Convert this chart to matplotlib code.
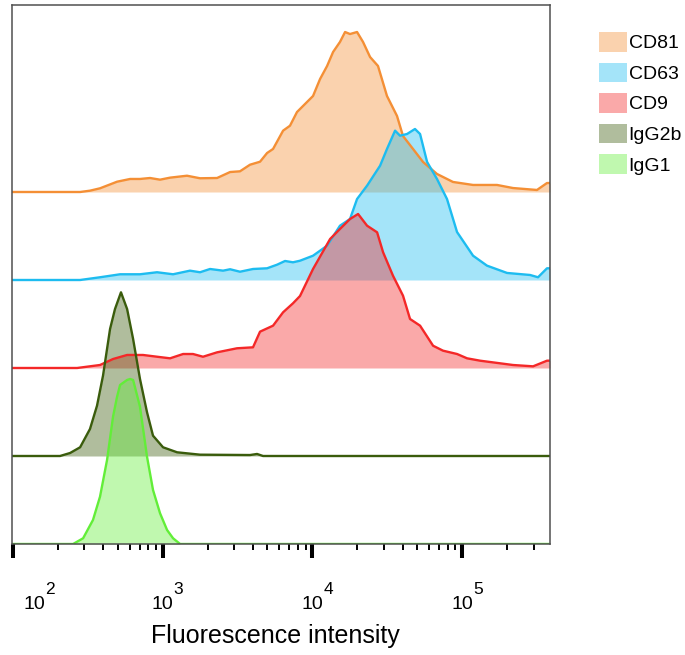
#!/usr/bin/env python3
# Histogramas apilados de intensidad de fluorescencia (CD81, CD63, CD9 e isotipos).
# Genera out.png.

import numpy as np
import matplotlib
matplotlib.use("Agg")
import matplotlib.pyplot as plt
from matplotlib import ticker
from matplotlib.patches import Patch

plt.rcParams.update({
    "font.family": ["Liberation Sans", "DejaVu Sans"],
})

# Datos: log10(intensidad) y cuenta normalizada
# (1.0 = separacion entre lineas base).
labels = ["CD81", "CD63", "CD9", "IgG2b", "IgG1"]
line_colors = ["#F48F35", "#1DBCF0", "#F42828", "#3A5C0C", "#62EE38"]
baselines = [4, 3, 2, 1, 0]

cd81_log = [1.993, 2.448, 2.514, 2.581, 2.695, 2.782, 2.848, 2.915, 2.982, 3.049,
            3.162, 3.249, 3.363, 3.450, 3.516, 3.583, 3.650, 3.697, 3.737, 3.804,
            3.850, 3.897, 3.937, 4.004, 4.051, 4.098, 4.138, 4.184, 4.218, 4.251,
            4.298, 4.338, 4.385, 4.438, 4.498, 4.565, 4.605, 4.672, 4.739, 4.832,
            4.939, 5.073, 5.233, 5.340, 5.500, 5.567, 5.587]
cd81_cnt = [0, 0, 0.015, 0.042, 0.117, 0.148, 0.148, 0.159, 0.140, 0.163,
            0.185, 0.156, 0.159, 0.227, 0.235, 0.310, 0.344, 0.443, 0.489, 0.697,
            0.753, 0.909, 0.977, 1.091, 1.284, 1.432, 1.591, 1.705, 1.818, 1.795,
            1.818, 1.705, 1.534, 1.432, 1.091, 0.864, 0.636, 0.489, 0.341, 0.205,
            0.114, 0.080, 0.080, 0.045, 0.023, 0.102, 0.102]

cd63_log = [1.993, 2.448, 2.581, 2.715, 2.848, 2.962, 3.069, 3.182, 3.249, 3.316,
            3.403, 3.450, 3.516, 3.603, 3.697, 3.764, 3.817, 3.870, 3.917, 4.004,
            4.098, 4.184, 4.251, 4.298, 4.365, 4.452, 4.498, 4.552, 4.585, 4.632,
            4.685, 4.719, 4.766, 4.832, 4.899, 4.966, 5.073, 5.166, 5.300, 5.454,
            5.507, 5.567, 5.587]
cd63_cnt = [0, 0, 0.031, 0.065, 0.065, 0.088, 0.065, 0.106, 0.088, 0.125,
            0.106, 0.122, 0.094, 0.125, 0.133, 0.174, 0.216, 0.201, 0.219, 0.276,
            0.390, 0.617, 0.693, 0.920, 1.072, 1.299, 1.489, 1.697, 1.640, 1.659,
            1.716, 1.659, 1.341, 1.148, 0.920, 0.545, 0.276, 0.163, 0.080, 0.057,
            0.031, 0.133, 0.133]

cd9_log = [1.993, 2.428, 2.581, 2.668, 2.762, 2.868, 2.962, 3.049, 3.136, 3.202,
           3.269, 3.363, 3.496, 3.603, 3.650, 3.737, 3.804, 3.870, 3.917, 4.004,
           4.118, 4.184, 4.251, 4.305, 4.365, 4.432, 4.472, 4.538, 4.605, 4.652,
           4.719, 4.806, 4.872, 4.966, 5.033, 5.120, 5.340, 5.474, 5.567, 5.587]
cd9_cnt = [0, 0, 0.034, 0.102, 0.148, 0.148, 0.128, 0.110, 0.159, 0.159,
           0.128, 0.178, 0.224, 0.235, 0.413, 0.481, 0.633, 0.735, 0.818, 1.125,
           1.466, 1.580, 1.693, 1.750, 1.617, 1.542, 1.315, 1.049, 0.822, 0.557,
           0.481, 0.253, 0.197, 0.159, 0.110, 0.083, 0.034, 0.019, 0.083, 0.083]

igg2b_log = [1.993, 2.314, 2.381, 2.448, 2.514, 2.561, 2.601, 2.648, 2.681, 2.721,
             2.762, 2.802, 2.848, 2.895, 2.935, 3.002, 3.096, 3.249, 3.583, 3.630,
             3.670, 5.587]
igg2b_cnt = [0, 0, 0.034, 0.099, 0.307, 0.572, 0.913, 1.443, 1.670, 1.860,
             1.670, 1.330, 0.875, 0.497, 0.231, 0.099, 0.042, 0.015, 0.011, 0.023,
             0, 0]

igg1_log = [1.993, 2.401, 2.468, 2.534, 2.581, 2.628, 2.668, 2.695, 2.715, 2.762,
            2.782, 2.802, 2.848, 2.895, 2.935, 2.982, 3.029, 3.069, 3.116, 5.587]
igg1_cnt = [0, 0, 0.065, 0.273, 0.538, 0.955, 1.447, 1.674, 1.807, 1.864,
            1.875, 1.864, 1.560, 0.992, 0.614, 0.349, 0.159, 0.065, 0, 0]

series = [(cd81_log, cd81_cnt), (cd63_log, cd63_cnt), (cd9_log, cd9_cnt),
          (igg2b_log, igg2b_cnt), (igg1_log, igg1_cnt)]
major_ticks = [1e2, 1e3, 1e4, 1e5]
tick_exponents = ["2", "3", "4", "5"]

fig = plt.figure(figsize=(6.85, 6.55), dpi=100)
ax = fig.add_axes([12/685, 1 - 544/655, (550 - 12)/685, (544 - 5)/655])

# Del fondo (arriba) hacia el frente (abajo): cada relleno tapa al anterior.
for (lx, cnt), base, col in zip(series, baselines, line_colors):
    xv = 10**np.asarray(lx)
    yv = base + np.asarray(cnt)
    ax.fill_between(xv, base, yv, color=col, alpha=0.4, lw=0)
    ax.plot(xv, yv, color=col, lw=1.7, solid_joinstyle="round")

ax.set_xscale("log")
ax.set_xlim(10**1.993, 10**5.587)
ax.set_ylim(0, 6.125)
ax.set_yticks([])

ax.xaxis.set_major_locator(ticker.FixedLocator(major_ticks))
ax.xaxis.set_major_formatter(ticker.NullFormatter())
ax.xaxis.set_minor_locator(ticker.LogLocator(base=10, subs=np.arange(2, 10), numticks=50))
ax.xaxis.set_minor_formatter(ticker.NullFormatter())
ax.tick_params(axis="x", which="major", length=10, width=2.9, color="black")
ax.tick_params(axis="x", which="minor", length=4.5, width=1.4, color="black")

for sp in ax.spines.values():
    sp.set_color("#505050")
    sp.set_linewidth(1.1)

# Etiquetas "10" con exponente grande, como en el original; la primera va
# corrida a la derecha porque cae sobre el borde izquierdo.
xtrans = ax.get_xaxis_transform()
for i, (v, e) in enumerate(zip(major_ticks, tick_exponents)):
    dx = 21 if i == 0 else 0
    ax.annotate("10", xy=(v, 0), xycoords=xtrans, xytext=(dx, -65),
                textcoords="offset pixels", ha="center", va="baseline",
                fontsize=14, annotation_clip=False)
    ax.annotate(e, xy=(v, 0), xycoords=xtrans, xytext=(dx + 11, -50),
                textcoords="offset pixels", ha="left", va="baseline",
                fontsize=12.5, annotation_clip=False)

ax.set_xlabel("Fluorescence intensity", fontsize=18)
ax.xaxis.set_label_coords(0.49, -0.148)

handles = [Patch(facecolor=c, alpha=0.4, edgecolor="none") for c in line_colors]
fig.legend(handles, labels, loc="upper left", bbox_to_anchor=(599/685, 1 - 32/655),
           frameon=False, fontsize=14, handlelength=1.43, handleheight=1.18,
           handletextpad=0.1, labelspacing=0.52, borderpad=0, borderaxespad=0)

fig.savefig("out.png", dpi=100)
